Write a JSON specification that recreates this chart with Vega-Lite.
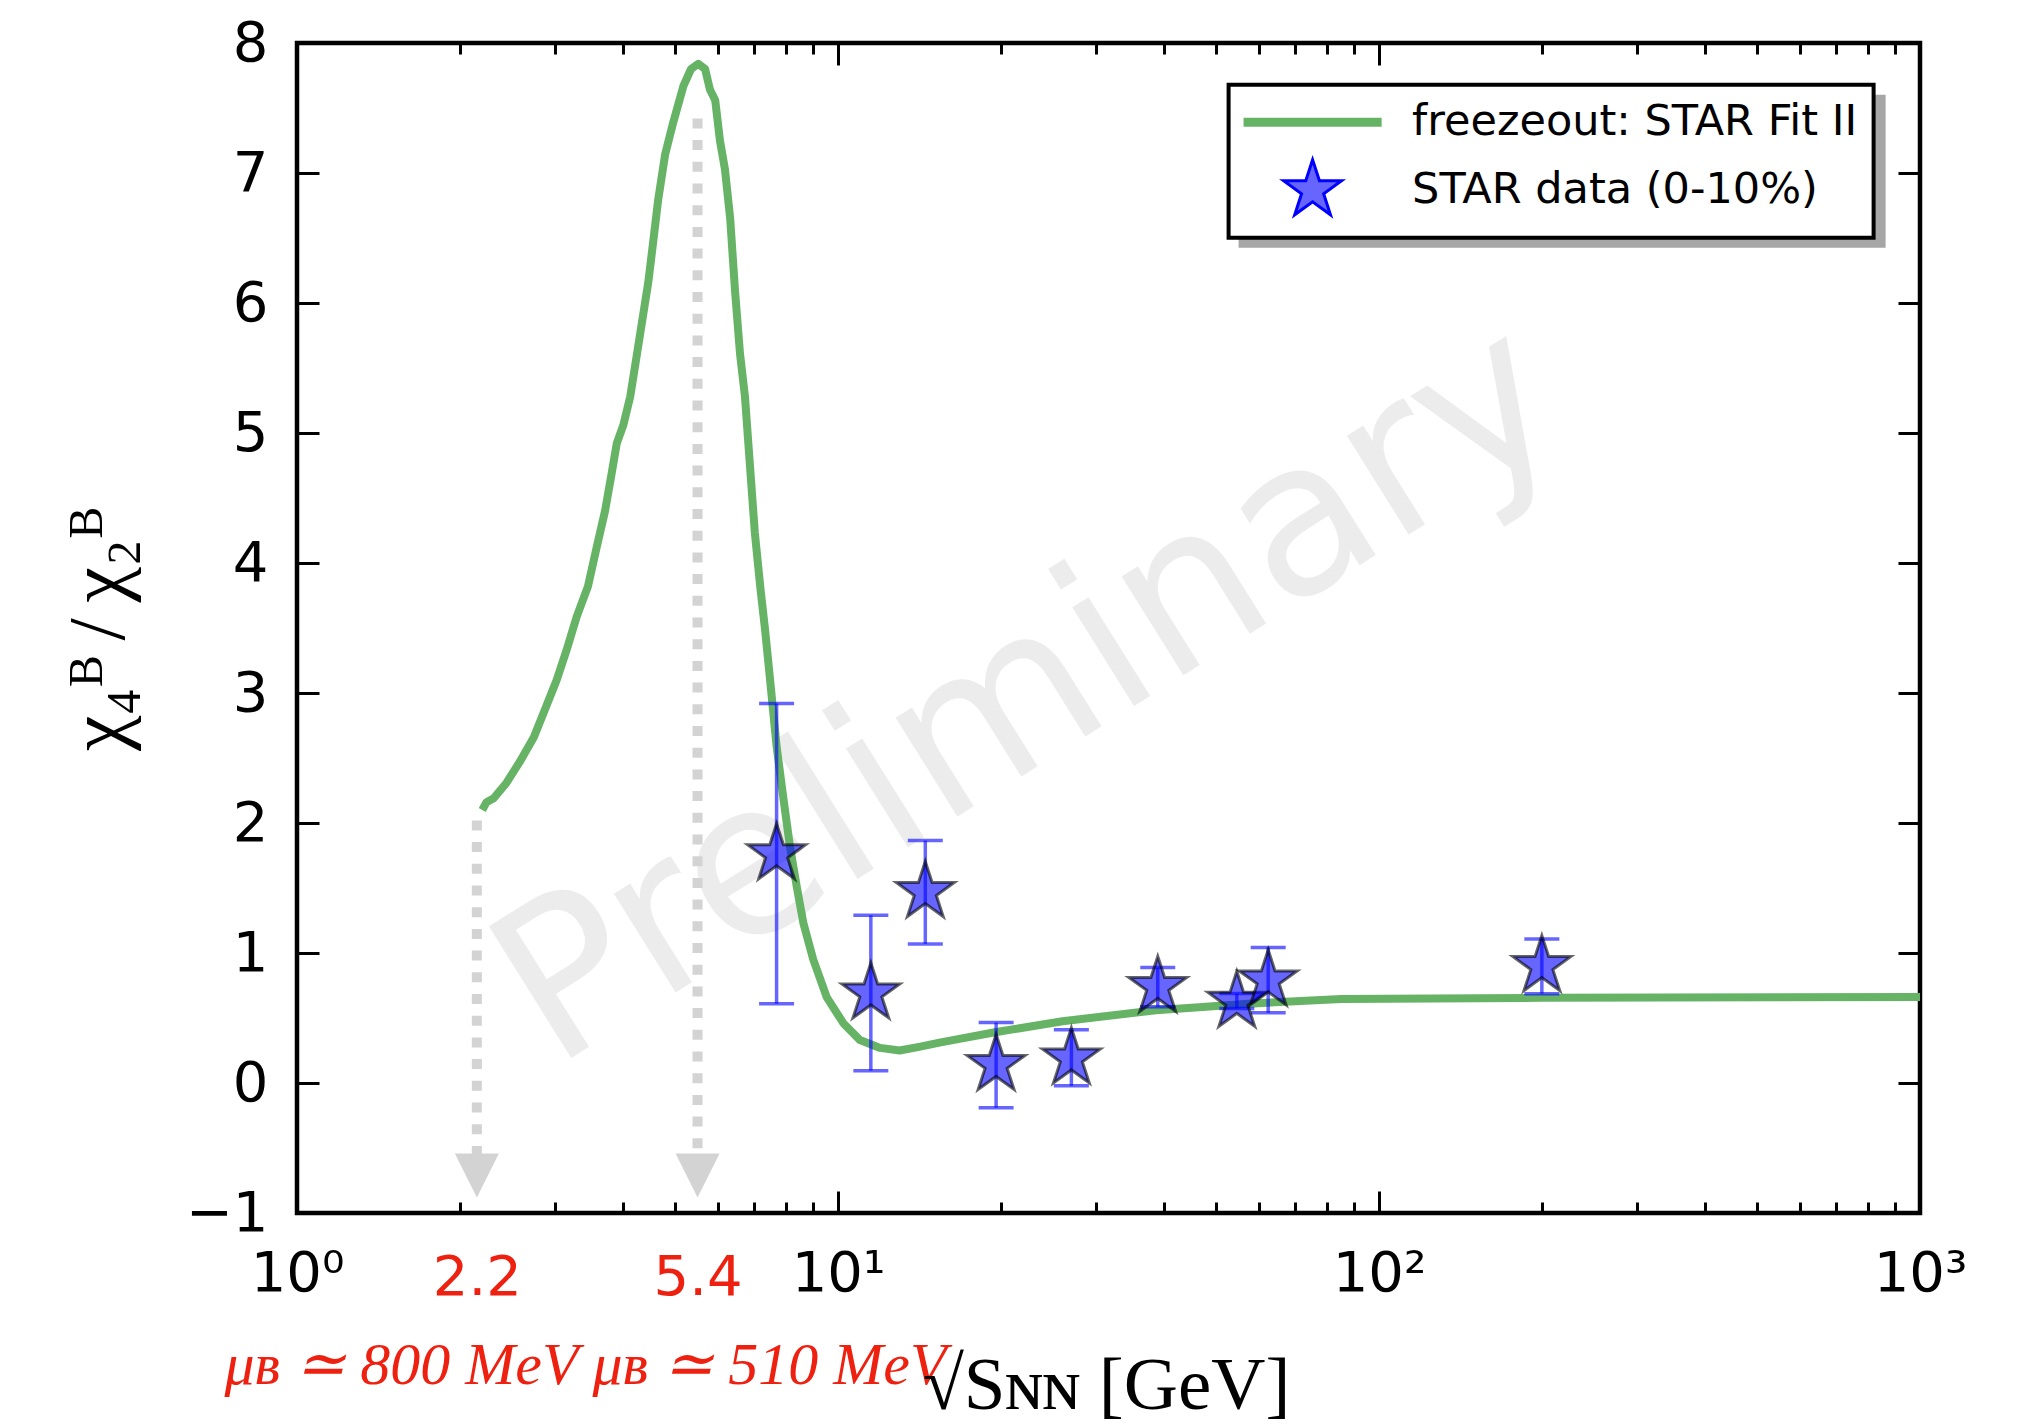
{
  "$schema": "https://vega.github.io/schema/vega-lite/v6.json",
  "width": 1623,
  "height": 1170,
  "autosize": "none",
  "padding": {"left": 297, "top": 43, "right": 103, "bottom": 211},
  "background": "white",
  "config": {
    "view": {"stroke": "black", "strokeWidth": 4.5},
    "axis": {
      "grid": false,
      "domain": false,
      "labelFlush": false,
      "labelOverlap": false,
      "labelFont": "DejaVu Sans",
      "labelFontSize": 56,
      "labelColor": "black",
      "tickColor": "black",
      "tickWidth": 3,
      "titleFontWeight": "normal",
      "titleColor": "black"
    },
    "legend": {
      "labelFont": "DejaVu Sans",
      "labelFontSize": 43,
      "labelColor": "black",
      "symbolSize": 3700,
      "padding": 16,
      "rowPadding": 9,
      "labelOffset": 78,
      "symbolOffset": 46.5,
      "strokeWidth": 4,
      "cornerRadius": 0,
      "labelLimit": 1000
    }
  },
  "datasets": {
    "curve": [
      {"E": 2.20, "v": 2.10}, {"E": 2.24, "v": 2.16}, {"E": 2.31, "v": 2.19}, {"E": 2.44, "v": 2.31},
      {"E": 2.58, "v": 2.47}, {"E": 2.74, "v": 2.66}, {"E": 2.89, "v": 2.90}, {"E": 3.02, "v": 3.10},
      {"E": 3.15, "v": 3.33}, {"E": 3.29, "v": 3.59}, {"E": 3.45, "v": 3.82}, {"E": 3.58, "v": 4.12},
      {"E": 3.71, "v": 4.40}, {"E": 3.82, "v": 4.70}, {"E": 3.90, "v": 4.92}, {"E": 4.01, "v": 5.06},
      {"E": 4.13, "v": 5.28}, {"E": 4.27, "v": 5.66}, {"E": 4.46, "v": 6.16}, {"E": 4.56, "v": 6.49},
      {"E": 4.65, "v": 6.79}, {"E": 4.79, "v": 7.14}, {"E": 4.96, "v": 7.39}, {"E": 5.18, "v": 7.67},
      {"E": 5.35, "v": 7.80}, {"E": 5.52, "v": 7.84}, {"E": 5.68, "v": 7.80}, {"E": 5.80, "v": 7.64},
      {"E": 5.93, "v": 7.56}, {"E": 6.05, "v": 7.25}, {"E": 6.18, "v": 7.03}, {"E": 6.32, "v": 6.65},
      {"E": 6.45, "v": 6.10}, {"E": 6.59, "v": 5.61}, {"E": 6.73, "v": 5.28}, {"E": 6.88, "v": 4.73},
      {"E": 7.02, "v": 4.23}, {"E": 7.19, "v": 3.80}, {"E": 7.33, "v": 3.49}, {"E": 7.49, "v": 3.10},
      {"E": 7.70, "v": 2.59}, {"E": 7.92, "v": 2.20}, {"E": 8.15, "v": 1.82}, {"E": 8.39, "v": 1.51},
      {"E": 8.63, "v": 1.23}, {"E": 9.00, "v": 0.95}, {"E": 9.53, "v": 0.66}, {"E": 10.23, "v": 0.46},
      {"E": 10.98, "v": 0.33}, {"E": 11.96, "v": 0.27}, {"E": 13.0, "v": 0.25}, {"E": 14.2, "v": 0.28},
      {"E": 15.4, "v": 0.31}, {"E": 16.3, "v": 0.33}, {"E": 19.5, "v": 0.39}, {"E": 26.0, "v": 0.475},
      {"E": 38.7, "v": 0.56}, {"E": 57.4, "v": 0.61}, {"E": 85.2, "v": 0.646}, {"E": 200, "v": 0.655},
      {"E": 1000, "v": 0.662}
    ],
    "points": [
      {"E": 7.7, "v": 1.76, "lo": 0.61, "hi": 2.92},
      {"E": 11.5, "v": 0.69, "lo": 0.095, "hi": 1.29},
      {"E": 14.5, "v": 1.47, "lo": 1.07, "hi": 1.865},
      {"E": 19.6, "v": 0.14, "lo": -0.19, "hi": 0.465},
      {"E": 27, "v": 0.19, "lo": -0.022, "hi": 0.41},
      {"E": 39, "v": 0.74, "lo": 0.587, "hi": 0.888},
      {"E": 54.6, "v": 0.625, "lo": 0.573, "hi": 0.688},
      {"E": 62.4, "v": 0.79, "lo": 0.54, "hi": 1.043},
      {"E": 200, "v": 0.90, "lo": 0.687, "hi": 1.108}
    ],
    "arrows": [
      {"E": 2.15, "top": 2.02, "bottom": -0.55, "head": -0.712},
      {"E": 5.5, "top": 7.42, "bottom": -0.55, "head": -0.712}
    ],
    "mark": [
      {"E": 26.1, "v": 2.56, "text": "Preliminary"}
    ]
  },
  "resolve": {"axis": {"x": "independent", "y": "independent"}},
  "layer": [
    {
      "data": {"name": "mark"},
      "mark": {"type": "text", "font": "DejaVu Sans", "fontSize": 213, "angle": -32, "align": "center", "baseline": "alphabetic", "color": "#000000", "opacity": 0.07},
      "encoding": {
        "x": {"field": "E", "type": "quantitative", "scale": {"type": "log", "domain": [1, 1000], "nice": false},
              "axis": {"orient": "top", "values": [1, 10, 100, 1000], "labels": false, "ticks": true, "tickSize": -22, "title": null}},
        "y": {"field": "v", "type": "quantitative", "scale": {"domain": [-1, 8], "nice": false, "zero": false},
              "axis": {"orient": "right", "values": [-1, 0, 1, 2, 3, 4, 5, 6, 7, 8], "labels": false, "ticks": true, "tickSize": -22, "title": null}},
        "text": {"field": "text"}
      }
    },
    {
      "data": {"name": "arrows"},
      "mark": {"type": "rule", "color": "#d3d3d3", "strokeWidth": 10, "strokeCap": "butt"},
      "encoding": {
        "x": {"field": "E", "type": "quantitative", "scale": {"type": "log", "domain": [1, 1000], "nice": false},
              "axis": {"orient": "bottom", "values": [2.15, 5.5], "ticks": false, "labelPadding": 37, "labelColor": "#ee2010",
                       "labelExpr": "datum.value < 3 ? '2.2' : '5.4'",
                       "title": "μʙ ≃ 800 MeV μʙ ≃ 510 MeV", "titleColor": "#ee2010", "titleFont": "Liberation Serif", "titleFontStyle": "italic", "titleFontSize": 60,
                       "titleX": 288, "titleY": 170, "titleAlign": "center", "titleBaseline": "alphabetic", "titleAngle": 0}},
        "y": {"field": "top", "type": "quantitative", "scale": {"domain": [-1, 8], "nice": false, "zero": false},
              "axis": {"orient": "left", "values": [-1, 0, 1, 2, 3, 4, 5, 6, 7, 8], "labels": false, "ticks": true, "tickSize": -22, "title": null}},
        "y2": {"field": "bottom"},
        "strokeDash": {"datum": "shadow-a", "type": "nominal",
                       "scale": {"domain": ["shadow-a", "shadow-b"], "range": [[10, 11.7], [10, 11.7]]},
                       "legend": {"title": null, "orient": "none", "legendX": 943.6, "legendY": 53.7, "fillColor": "#a6a6a6", "strokeColor": "#a6a6a6",
                                  "symbolOffset": 469.5,
                                  "labelExpr": "'\u00a0'",
                                  "symbolOpacity": 0, "labelOpacity": 0,
                                  "encode": {"symbols": {"update": {"opacity": {"value": 0}}}, "labels": {"update": {"opacity": {"value": 0}}}}}}
      }
    },
    {
      "data": {"name": "curve"},
      "mark": {"type": "line", "strokeWidth": 8, "strokeJoin": "round", "interpolate": "linear"},
      "encoding": {
        "x": {"field": "E", "type": "quantitative", "scale": {"type": "log", "domain": [1, 1000], "nice": false},
              "axis": {"orient": "bottom", "values": [1, 10, 100, 1000], "ticks": false, "labelPadding": 33,
                       "labelExpr": "datum.value == 1 ? '10⁰' : datum.value == 10 ? '10¹' : datum.value == 100 ? '10²' : '10³'",
                       "title": "√Sɴɴ [GeV]", "titleFont": "Liberation Serif", "titleFontSize": 75, "titleX": 809, "titleY": 195,
                       "titleAlign": "center", "titleBaseline": "alphabetic", "titleAngle": 0}},
        "y": {"field": "v", "type": "quantitative", "scale": {"domain": [-1, 8], "nice": false, "zero": false},
              "axis": {"orient": "left", "values": [-1, 0, 1, 2, 3, 4, 5, 6, 7, 8], "ticks": false, "labelPadding": 29, "format": "d",
                       "title": "χ₄ᴮ\u2009/\u2009χ₂ᴮ", "titleFont": "Liberation Serif", "titleFontSize": 80, "titleX": -174, "titleY": 586,
                       "titleAlign": "center", "titleBaseline": "alphabetic", "titleAngle": -90}},
        "color": {"datum": "freezeout: STAR Fit II", "type": "nominal",
                  "scale": {"domain": ["freezeout: STAR Fit II", "STAR data (0-10%)"], "range": ["#66b366", "#0000ff"]},
                  "legend": {"title": null, "orient": "none", "legendX": 931.6, "legendY": 41.7, "fillColor": "white", "strokeColor": "black",
                             "encode": {"symbols": {"update": {
                               "shape": {"signal": "datum.value === 'STAR data (0-10%)' ? 'M0,-1L-0.2245,-0.309L-0.9511,-0.309L-0.3633,0.118L-0.5878,0.809L0,0.382L0.5878,0.809L0.3633,0.118L0.9511,-0.309L0.2245,-0.309Z' : 'M-2.27,0L2.27,0'"},
                               "size": {"value": 3700},
                               "fill": {"signal": "datum.value === 'STAR data (0-10%)' ? 'rgba(0,0,255,0.6)' : 'transparent'"},
                               "stroke": {"signal": "datum.value === 'STAR data (0-10%)' ? 'rgba(0,0,0,0.6)' : '#66b366'"},
                               "strokeWidth": {"signal": "datum.value === 'STAR data (0-10%)' ? 3 : 9"},
                               "opacity": {"value": 1}
                             }}}}}
      }
    },
    {
      "data": {"name": "arrows"},
      "mark": {"type": "point", "shape": "M-1,-1L1,-1L0,1Z", "size": 1936, "filled": true, "color": "#d3d3d3", "opacity": 1, "strokeWidth": 0},
      "encoding": {
        "x": {"field": "E", "type": "quantitative", "scale": {"type": "log", "domain": [1, 1000], "nice": false},
              "axis": {"orient": "bottom", "values": [1, 10, 100, 1000], "labels": false, "ticks": true, "tickSize": -22, "title": null}},
        "y": {"field": "head", "type": "quantitative", "scale": {"domain": [-1, 8], "nice": false, "zero": false}, "axis": null}
      }
    },
    {
      "data": {"name": "points"},
      "mark": {"type": "rule", "color": "#0000ff", "opacity": 0.6, "strokeWidth": 3.5},
      "encoding": {
        "x": {"field": "E", "type": "quantitative", "scale": {"type": "log", "domain": [1, 1000], "nice": false},
              "axis": {"orient": "bottom", "values": [2, 3, 4, 5, 6, 7, 8, 9, 20, 30, 40, 50, 60, 70, 80, 90, 200, 300, 400, 500, 600, 700, 800, 900], "labels": false, "ticks": true, "tickSize": -11, "title": null}},
        "y": {"field": "lo", "type": "quantitative", "scale": {"domain": [-1, 8], "nice": false, "zero": false}, "axis": null},
        "y2": {"field": "hi"}
      }
    },
    {
      "data": {"name": "points"},
      "mark": {"type": "tick", "orient": "horizontal", "size": 35, "thickness": 3.5, "color": "#0000ff", "opacity": 0.6},
      "encoding": {
        "x": {"field": "E", "type": "quantitative", "scale": {"type": "log", "domain": [1, 1000], "nice": false},
              "axis": {"orient": "top", "values": [2, 3, 4, 5, 6, 7, 8, 9, 20, 30, 40, 50, 60, 70, 80, 90, 200, 300, 400, 500, 600, 700, 800, 900], "labels": false, "ticks": true, "tickSize": -11, "title": null}},
        "y": {"field": "lo", "type": "quantitative", "scale": {"domain": [-1, 8], "nice": false, "zero": false}, "axis": null}
      }
    },
    {
      "data": {"name": "points"},
      "mark": {"type": "tick", "orient": "horizontal", "size": 35, "thickness": 3.5, "color": "#0000ff", "opacity": 0.6},
      "encoding": {
        "x": {"field": "E", "type": "quantitative", "scale": {"type": "log", "domain": [1, 1000], "nice": false}, "axis": null},
        "y": {"field": "hi", "type": "quantitative", "scale": {"domain": [-1, 8], "nice": false, "zero": false}, "axis": null}
      }
    },
    {
      "data": {"name": "points"},
      "mark": {"type": "point", "shape": "M0,-1L-0.2245,-0.309L-0.9511,-0.309L-0.3633,0.118L-0.5878,0.809L0,0.382L0.5878,0.809L0.3633,0.118L0.9511,-0.309L0.2245,-0.309Z",
               "size": 3700, "filled": true, "fill": "#0000ff", "fillOpacity": 0.6, "stroke": "#000000", "strokeOpacity": 0.6, "strokeWidth": 3},
      "encoding": {
        "x": {"field": "E", "type": "quantitative", "scale": {"type": "log", "domain": [1, 1000], "nice": false}, "axis": null},
        "y": {"field": "v", "type": "quantitative", "scale": {"domain": [-1, 8], "nice": false, "zero": false}, "axis": null}
      }
    }
  ]
}
